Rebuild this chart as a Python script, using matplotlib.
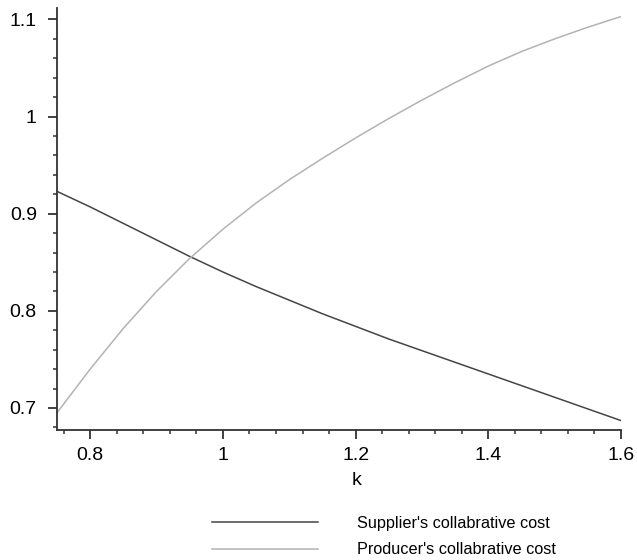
import matplotlib
matplotlib.use("Agg")
import matplotlib.pyplot as plt
from matplotlib.ticker import MultipleLocator

plt.rcParams['font.family'] = ['Liberation Sans', 'DejaVu Sans']

# data
k = [0.75, 0.80, 0.85, 0.90, 0.95, 1.00, 1.05, 1.10, 1.15, 1.20,
     1.25, 1.30, 1.35, 1.40, 1.45, 1.50, 1.55, 1.60]
supplier = [0.923, 0.907, 0.890, 0.873, 0.856, 0.840, 0.825, 0.811, 0.797, 0.784,
            0.771, 0.759, 0.747, 0.735, 0.723, 0.711, 0.699, 0.687]
producer = [0.695, 0.740, 0.782, 0.820, 0.854, 0.884, 0.911, 0.935, 0.957, 0.978,
            0.998, 1.017, 1.035, 1.052, 1.067, 1.080, 1.092, 1.103]
labels = ["Supplier's collabrative cost", "Producer's collabrative cost"]

fig = plt.figure(figsize=(6.37, 5.6), dpi=100)
ax = fig.add_axes([57 / 637, 1 - 430 / 560, 564 / 637, 422 / 560])

ax.plot(k, supplier, color='#454545', lw=1.1, label=labels[0])
ax.plot(k, producer, color='#b3b3b3', lw=1.1, label=labels[1])

ax.set_xlim(0.75, 1.6)
ax.set_ylim(0.6773, 1.1118)

# maple style axes
for s in ['top', 'right']:
    ax.spines[s].set_visible(False)
for s in ['left', 'bottom']:
    ax.spines[s].set_color('#333333')
    ax.spines[s].set_linewidth(1.3)

ax.xaxis.set_major_locator(MultipleLocator(0.2))
ax.xaxis.set_minor_locator(MultipleLocator(0.04))
ax.yaxis.set_major_locator(MultipleLocator(0.1))
ax.yaxis.set_minor_locator(MultipleLocator(0.02))
ax.xaxis.set_major_formatter(plt.FuncFormatter(lambda v, p: f"{v:g}"))
ax.yaxis.set_major_formatter(plt.FuncFormatter(lambda v, p: f"{v:g}"))

ax.tick_params(which='major', length=6.5, width=1.3, color='#333333', labelsize=14)
ax.tick_params(which='minor', length=3.2, width=1.1, color='#333333')
ax.tick_params(axis='y', which='major', pad=8)
ax.tick_params(axis='x', which='major', pad=6)

ax.set_xlabel("k", fontsize=14)
ax.xaxis.set_label_coords(0.532, -0.1)

fig.legend(loc='center left', bbox_to_anchor=(212 / 637, 1 - 536.5 / 560),
           frameon=False, fontsize=11.7, handlelength=6.5, handletextpad=2.4,
           labelspacing=0.72, borderpad=0, borderaxespad=0)

fig.savefig("out.png", dpi=100)
